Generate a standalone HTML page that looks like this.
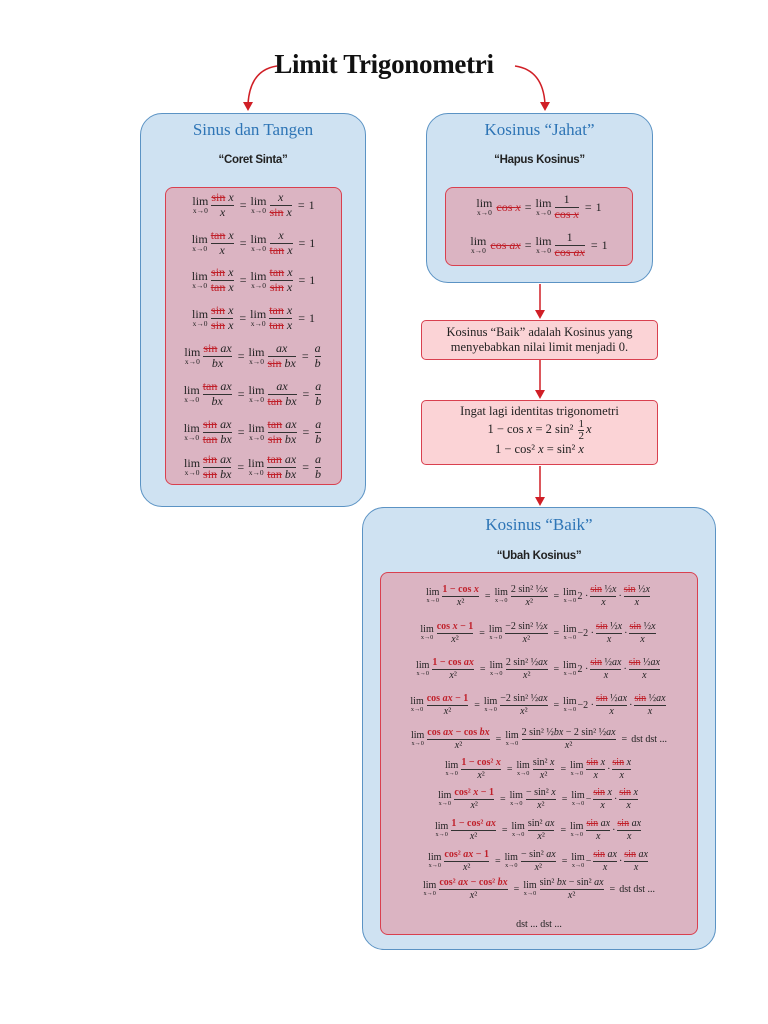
<!DOCTYPE html>
<html><head><meta charset="utf-8">
<style>
*{margin:0;padding:0;box-sizing:border-box}
body{width:768px;height:1024px;background:#fff;position:relative;overflow:hidden;font-family:"Liberation Serif","DejaVu Serif",serif;color:#222}
.box{position:absolute;border:1.5px solid #5b93c4;background:#cfe2f2;border-radius:22px}
.in{position:absolute;border:1.5px solid #d9404f;background:#dbb4c2;border-radius:8px}
.pk{position:absolute;border:1.5px solid #d9404f;background:#fbd3d6;border-radius:5px;text-align:center;font-size:12.5px;line-height:15px}
.h{position:absolute;text-align:center;color:#2e75b6;font-size:17px;font-family:"Liberation Serif",serif}
.s{position:absolute;text-align:center;font-size:11.5px;font-weight:bold;font-family:"Liberation Sans",sans-serif;letter-spacing:-0.3px}
.row{position:absolute;display:flex;align-items:center;justify-content:center;white-space:nowrap;height:34px}
.f{display:inline-flex;flex-direction:column;vertical-align:middle;text-align:center;margin:0 2px;line-height:1.15}
.f>span:last-child{border-top:1px solid #333}
.l{display:inline-flex;flex-direction:column;vertical-align:middle;align-items:center;line-height:.95;margin-right:1px}
.l small{font-size:.62em}
.r{color:#c0202a;text-decoration:line-through}
.b{color:#c0202a;font-weight:bold}
i{font-style:italic}
.eq{margin:0 4px}
.L{font-size:12px}
.R{font-size:10px}
</style></head><body>

<div style="position:absolute;left:0;width:768px;top:49px;text-align:center;font-size:27px;font-weight:bold;color:#111;letter-spacing:-0.3px">Limit Trigonometri</div>

<svg width="768" height="1024" style="position:absolute;left:0;top:0">
<defs><marker id="a" markerWidth="8" markerHeight="8" refX="4" refY="6" orient="auto-start-reverse" markerUnits="userSpaceOnUse"><path d="M0,0 L8,0 L4,8Z" fill="#d01f26" transform="rotate(-90 4 4)"/></marker></defs>
<path d="M277,66 Q250,70 248,104" stroke="#d01f26" stroke-width="1.5" fill="none"/>
<path d="M243,102 L253,102 L248,111Z" fill="#d01f26"/>
<path d="M515,66 Q543,70 545,104" stroke="#d01f26" stroke-width="1.5" fill="none"/>
<path d="M540,102 L550,102 L545,111Z" fill="#d01f26"/>
<line x1="540" y1="284" x2="540" y2="312" stroke="#d01f26" stroke-width="1.5"/><path d="M535,310 L545,310 L540,319Z" fill="#d01f26"/>
<line x1="540" y1="360" x2="540" y2="392" stroke="#d01f26" stroke-width="1.5"/><path d="M535,390 L545,390 L540,399Z" fill="#d01f26"/>
<line x1="540" y1="466" x2="540" y2="499" stroke="#d01f26" stroke-width="1.5"/><path d="M535,497 L545,497 L540,506Z" fill="#d01f26"/>
</svg>

<!-- Left box -->
<div class="box" style="left:140px;top:113px;width:226px;height:394px"></div>
<div class="h" style="left:140px;width:226px;top:120px">Sinus dan Tangen</div>
<div class="s" style="left:140px;width:226px;top:154px">“Coret Sinta”</div>
<div class="in" style="left:165px;top:187px;width:177px;height:298px"></div>

<div class="row L" style="left:165px;width:177px;top:188px"><span class="l">lim<small>x→0</small></span><span class="f"><span><span class="r">sin</span> <i>x</i></span><span><i>x</i></span></span><span class="eq">=</span><span class="l">lim<small>x→0</small></span><span class="f"><span><i>x</i></span><span><span class="r">sin</span> <i>x</i></span></span><span class="eq">=</span>1</div>
<div class="row L" style="left:165px;width:177px;top:226px"><span class="l">lim<small>x→0</small></span><span class="f"><span><span class="r">tan</span> <i>x</i></span><span><i>x</i></span></span><span class="eq">=</span><span class="l">lim<small>x→0</small></span><span class="f"><span><i>x</i></span><span><span class="r">tan</span> <i>x</i></span></span><span class="eq">=</span>1</div>
<div class="row L" style="left:165px;width:177px;top:263px"><span class="l">lim<small>x→0</small></span><span class="f"><span><span class="r">sin</span> <i>x</i></span><span><span class="r">tan</span> <i>x</i></span></span><span class="eq">=</span><span class="l">lim<small>x→0</small></span><span class="f"><span><span class="r">tan</span> <i>x</i></span><span><span class="r">sin</span> <i>x</i></span></span><span class="eq">=</span>1</div>
<div class="row L" style="left:165px;width:177px;top:301px"><span class="l">lim<small>x→0</small></span><span class="f"><span><span class="r">sin</span> <i>x</i></span><span><span class="r">sin</span> <i>x</i></span></span><span class="eq">=</span><span class="l">lim<small>x→0</small></span><span class="f"><span><span class="r">tan</span> <i>x</i></span><span><span class="r">tan</span> <i>x</i></span></span><span class="eq">=</span>1</div>
<div class="row L" style="left:165px;width:177px;top:339px"><span class="l">lim<small>x→0</small></span><span class="f"><span><span class="r">sin</span> <i>ax</i></span><span><i>bx</i></span></span><span class="eq">=</span><span class="l">lim<small>x→0</small></span><span class="f"><span><i>ax</i></span><span><span class="r">sin</span> <i>bx</i></span></span><span class="eq">=</span><span class="f"><span><i>a</i></span><span><i>b</i></span></span></div>
<div class="row L" style="left:165px;width:177px;top:377px"><span class="l">lim<small>x→0</small></span><span class="f"><span><span class="r">tan</span> <i>ax</i></span><span><i>bx</i></span></span><span class="eq">=</span><span class="l">lim<small>x→0</small></span><span class="f"><span><i>ax</i></span><span><span class="r">tan</span> <i>bx</i></span></span><span class="eq">=</span><span class="f"><span><i>a</i></span><span><i>b</i></span></span></div>
<div class="row L" style="left:165px;width:177px;top:415px"><span class="l">lim<small>x→0</small></span><span class="f"><span><span class="r">sin</span> <i>ax</i></span><span><span class="r">tan</span> <i>bx</i></span></span><span class="eq">=</span><span class="l">lim<small>x→0</small></span><span class="f"><span><span class="r">tan</span> <i>ax</i></span><span><span class="r">sin</span> <i>bx</i></span></span><span class="eq">=</span><span class="f"><span><i>a</i></span><span><i>b</i></span></span></div>
<div class="row L" style="left:165px;width:177px;top:450px"><span class="l">lim<small>x→0</small></span><span class="f"><span><span class="r">sin</span> <i>ax</i></span><span><span class="r">sin</span> <i>bx</i></span></span><span class="eq">=</span><span class="l">lim<small>x→0</small></span><span class="f"><span><span class="r">tan</span> <i>ax</i></span><span><span class="r">tan</span> <i>bx</i></span></span><span class="eq">=</span><span class="f"><span><i>a</i></span><span><i>b</i></span></span></div>

<!-- Right top box -->
<div class="box" style="left:426px;top:113px;width:227px;height:170px"></div>
<div class="h" style="left:426px;width:227px;top:120px">Kosinus “Jahat”</div>
<div class="s" style="left:426px;width:227px;top:154px">“Hapus Kosinus”</div>
<div class="in" style="left:445px;top:187px;width:188px;height:79px"></div>
<div class="row L" style="left:445px;width:188px;top:190px"><span class="l">lim<small>x→0</small></span>&nbsp;<span class="r">cos <i>x</i></span><span class="eq">=</span><span class="l">lim<small>x→0</small></span><span class="f"><span>1</span><span><span class="r">cos <i>x</i></span></span></span><span class="eq">=</span>1</div>
<div class="row L" style="left:445px;width:188px;top:228px"><span class="l">lim<small>x→0</small></span>&nbsp;<span class="r">cos <i>ax</i></span><span class="eq">=</span><span class="l">lim<small>x→0</small></span><span class="f"><span>1</span><span><span class="r">cos <i>ax</i></span></span></span><span class="eq">=</span>1</div>

<div class="pk" style="left:421px;top:320px;width:237px;height:40px;padding-top:4px">Kosinus “Baik” adalah Kosinus yang<br>menyebabkan nilai limit menjadi 0.</div>
<div class="pk" style="left:421px;top:400px;width:237px;height:65px;padding-top:3px">Ingat lagi identitas trigonometri<br>
<span>1 − cos <i>x</i> = 2 sin² <span class="f" style="font-size:11px;line-height:1"><span>1</span><span>2</span></span><i>x</i></span><br>
<span>1 − cos² <i>x</i> = sin² <i>x</i></span></div>

<!-- Big box -->
<div class="box" style="left:362px;top:507px;width:354px;height:443px"></div>
<div class="h" style="left:362px;width:354px;top:515px">Kosinus “Baik”</div>
<div class="s" style="left:362px;width:354px;top:550px">“Ubah Kosinus”</div>
<div class="in" style="left:380px;top:572px;width:318px;height:363px"></div>

<div class="row R" style="left:380px;width:318px;top:579px"><span class="l">lim<small>x→0</small></span><span class="f"><span class="b">1 − cos <i>x</i></span><span><i>x</i>²</span></span><span class="eq">=</span><span class="l">lim<small>x→0</small></span><span class="f"><span>2 sin² ½<i>x</i></span><span><i>x</i>²</span></span><span class="eq">=</span><span class="l">lim<small>x→0</small></span>2 ·<span class="f"><span><span class="r">sin</span> ½<i>x</i></span><span><i>x</i></span></span>·<span class="f"><span><span class="r">sin</span> ½<i>x</i></span><span><i>x</i></span></span></div>
<div class="row R" style="left:380px;width:318px;top:616px"><span class="l">lim<small>x→0</small></span><span class="f"><span class="b">cos <i>x</i> − 1</span><span><i>x</i>²</span></span><span class="eq">=</span><span class="l">lim<small>x→0</small></span><span class="f"><span>−2 sin² ½<i>x</i></span><span><i>x</i>²</span></span><span class="eq">=</span><span class="l">lim<small>x→0</small></span>−2 ·<span class="f"><span><span class="r">sin</span> ½<i>x</i></span><span><i>x</i></span></span>·<span class="f"><span><span class="r">sin</span> ½<i>x</i></span><span><i>x</i></span></span></div>
<div class="row R" style="left:380px;width:318px;top:652px"><span class="l">lim<small>x→0</small></span><span class="f"><span class="b">1 − cos <i>ax</i></span><span><i>x</i>²</span></span><span class="eq">=</span><span class="l">lim<small>x→0</small></span><span class="f"><span>2 sin² ½<i>ax</i></span><span><i>x</i>²</span></span><span class="eq">=</span><span class="l">lim<small>x→0</small></span>2 ·<span class="f"><span><span class="r">sin</span> ½<i>ax</i></span><span><i>x</i></span></span>·<span class="f"><span><span class="r">sin</span> ½<i>ax</i></span><span><i>x</i></span></span></div>
<div class="row R" style="left:380px;width:318px;top:688px"><span class="l">lim<small>x→0</small></span><span class="f"><span class="b">cos <i>ax</i> − 1</span><span><i>x</i>²</span></span><span class="eq">=</span><span class="l">lim<small>x→0</small></span><span class="f"><span>−2 sin² ½<i>ax</i></span><span><i>x</i>²</span></span><span class="eq">=</span><span class="l">lim<small>x→0</small></span>−2 ·<span class="f"><span><span class="r">sin</span> ½<i>ax</i></span><span><i>x</i></span></span>·<span class="f"><span><span class="r">sin</span> ½<i>ax</i></span><span><i>x</i></span></span></div>
<div class="row R" style="left:380px;width:318px;top:722px"><span class="l">lim<small>x→0</small></span><span class="f"><span class="b">cos <i>ax</i> − cos <i>bx</i></span><span><i>x</i>²</span></span><span class="eq">=</span><span class="l">lim<small>x→0</small></span><span class="f"><span>2 sin² ½<i>bx</i> − 2 sin² ½<i>ax</i></span><span><i>x</i>²</span></span><span class="eq">=</span>dst dst ...</div>
<div class="row R" style="left:380px;width:318px;top:752px"><span class="l">lim<small>x→0</small></span><span class="f"><span class="b">1 − cos² <i>x</i></span><span><i>x</i>²</span></span><span class="eq">=</span><span class="l">lim<small>x→0</small></span><span class="f"><span>sin² <i>x</i></span><span><i>x</i>²</span></span><span class="eq">=</span><span class="l">lim<small>x→0</small></span><span class="f"><span><span class="r">sin</span> <i>x</i></span><span><i>x</i></span></span>·<span class="f"><span><span class="r">sin</span> <i>x</i></span><span><i>x</i></span></span></div>
<div class="row R" style="left:380px;width:318px;top:782px"><span class="l">lim<small>x→0</small></span><span class="f"><span class="b">cos² <i>x</i> − 1</span><span><i>x</i>²</span></span><span class="eq">=</span><span class="l">lim<small>x→0</small></span><span class="f"><span>− sin² <i>x</i></span><span><i>x</i>²</span></span><span class="eq">=</span><span class="l">lim<small>x→0</small></span>−<span class="f"><span><span class="r">sin</span> <i>x</i></span><span><i>x</i></span></span>·<span class="f"><span><span class="r">sin</span> <i>x</i></span><span><i>x</i></span></span></div>
<div class="row R" style="left:380px;width:318px;top:813px"><span class="l">lim<small>x→0</small></span><span class="f"><span class="b">1 − cos² <i>ax</i></span><span><i>x</i>²</span></span><span class="eq">=</span><span class="l">lim<small>x→0</small></span><span class="f"><span>sin² <i>ax</i></span><span><i>x</i>²</span></span><span class="eq">=</span><span class="l">lim<small>x→0</small></span><span class="f"><span><span class="r">sin</span> <i>ax</i></span><span><i>x</i></span></span>·<span class="f"><span><span class="r">sin</span> <i>ax</i></span><span><i>x</i></span></span></div>
<div class="row R" style="left:380px;width:318px;top:844px"><span class="l">lim<small>x→0</small></span><span class="f"><span class="b">cos² <i>ax</i> − 1</span><span><i>x</i>²</span></span><span class="eq">=</span><span class="l">lim<small>x→0</small></span><span class="f"><span>− sin² <i>ax</i></span><span><i>x</i>²</span></span><span class="eq">=</span><span class="l">lim<small>x→0</small></span>−<span class="f"><span><span class="r">sin</span> <i>ax</i></span><span><i>x</i></span></span>·<span class="f"><span><span class="r">sin</span> <i>ax</i></span><span><i>x</i></span></span></div>
<div class="row R" style="left:380px;width:318px;top:872px"><span class="l">lim<small>x→0</small></span><span class="f"><span class="b">cos² <i>ax</i> − cos² <i>bx</i></span><span><i>x</i>²</span></span><span class="eq">=</span><span class="l">lim<small>x→0</small></span><span class="f"><span>sin² <i>bx</i> − sin² <i>ax</i></span><span><i>x</i>²</span></span><span class="eq">=</span>dst dst ...</div>
<div class="R" style="position:absolute;left:380px;width:318px;top:919px;text-align:center">dst ... dst ...</div>

</body></html>
